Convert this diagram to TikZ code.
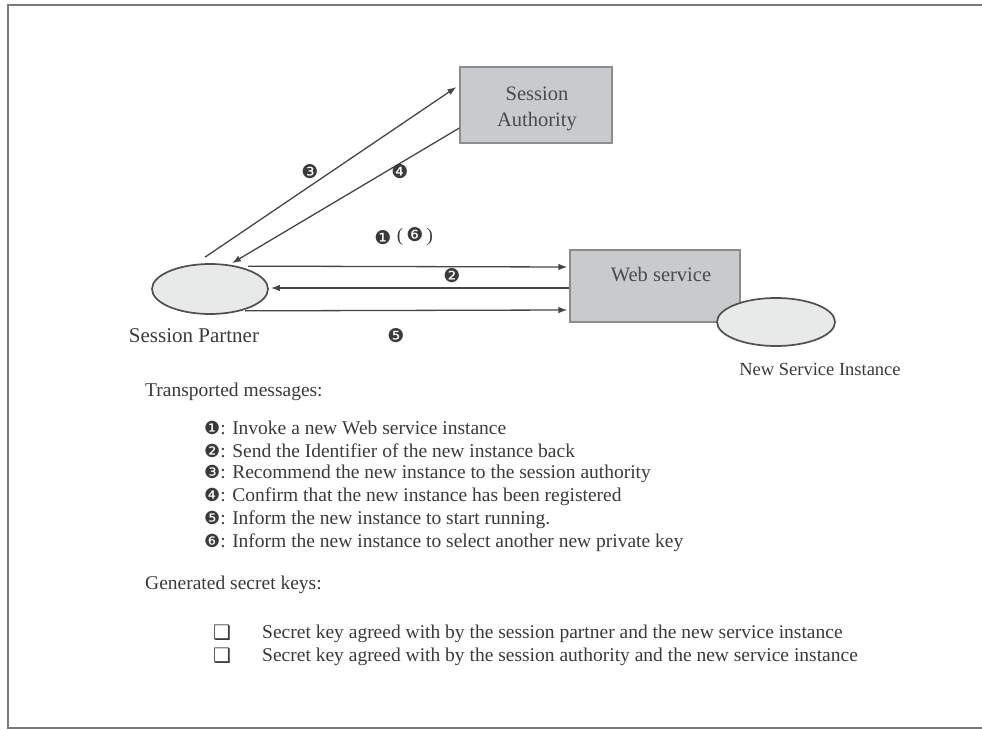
\documentclass[tikz,border=0pt]{standalone}
\usepackage{fontspec}
\setmainfont{Liberation Serif}
\newfontfamily\dv{DejaVu Sans}
\usetikzlibrary{arrows.meta,calc,shapes.geometric}
\definecolor{txt}{HTML}{3A3A3A}
\definecolor{boxtxt}{HTML}{4A4A4A}
\definecolor{boxfill}{HTML}{C8CACB}
\definecolor{boxline}{HTML}{8A8C8E}
\definecolor{ellfill}{HTML}{E8EAEA}
\definecolor{ellline}{HTML}{505050}
\definecolor{arrcol}{HTML}{454545}
\definecolor{framecol}{HTML}{7A7A7A}
\newcommand{\cnum}[1]{{\dv\fontsize{18}{18}\selectfont #1}}
\tikzset{
  box/.style={draw=boxline, fill=boxfill, line width=1.2pt, inner sep=0pt},
  boxtext/.style={text=boxtxt, inner sep=0pt, align=center, font=\fontsize{20.5}{26}\selectfont},
  ell/.style={ellipse, draw=ellline, fill=ellfill, line width=1.7pt, inner sep=0pt},
  arr/.style={draw=arrcol, line width=1.3pt, -{Latex[length=9pt,width=6.5pt]}},
  lbl/.style={text=txt, inner sep=0pt, font=\fontsize{21}{24}\selectfont},
  num/.style={text=txt, inner sep=0pt, font=\dv\fontsize{19}{20}\selectfont},
  item/.style={text=txt, inner sep=0pt, anchor=west, font=\fontsize{19.5}{23}\selectfont},
}
\begin{document}
\begin{tikzpicture}[x=1pt,y=-1pt]
\useasboundingbox (0,0) rectangle (982,730);
% frame
\draw[framecol, line width=2pt] (990,5) -- (8,5) -- (8,728) -- (990,728);

% nodes
\node[box, minimum width=152pt, minimum height=76pt] (sa) at (536,105) {};
\node[boxtext] (sat) at (537,109) {Session\\Authority};
\node[box, minimum width=170pt, minimum height=72pt] (ws) at (655,286) {};
\node[boxtext] (wst) at (661,275) {Web service};
\node[ell, minimum width=116pt, minimum height=50pt] (sp) at (210,289) {};
\node[ell, minimum width=118pt, minimum height=48pt] (nsi) at (776,322) {};
\node[lbl] (spl) at (194,336) {Session Partner};
\node[lbl, font=\fontsize{18.5}{22}\selectfont] (nsil) at (820,369) {New Service Instance};

% arrows
\draw[arr] ([shift={(-5,-6)}]sp.north) -- ([shift={(-3,-18)}]sa.west);
\draw[arr] ([shift={(0,23)}]sa.west) -- ([shift={(22,0)}]sp.north);
\draw[arr] ([shift={(38,3)}]sp.north) -- ([shift={(-2,-19)}]ws.west);
\draw[arr] ([shift={(0,2)}]ws.west) -- ([shift={(2,-1)}]sp.east);
\draw[arr] ([shift={(35,-4)}]sp.south) -- ([shift={(-2,24)}]ws.west);

% message numbers
\node[num] (n3) at (310,172) {❸};
\node[num] (n4) at (400,172) {❹};
\node[num] (n1) at (383,238) {❶};
\node[lbl, font=\fontsize{19}{20}\selectfont] (n6) at (415,237) {(\,{\dv\fontsize{19}{20}\selectfont ❻}\,)};
\node[num] (n2) at (452,276) {❷};
\node[num] (n5) at (396,336) {❺};

% legend
\node[item] (t1) at (145,392) {Transported messages:};
\node[item] (m1) at (204,428) {\cnum{❶}: Invoke a new Web service instance};
\node[item] (m2) at (204,451) {\cnum{❷}: Send the Identifier of the new instance back};
\node[item] (m3) at (204,474) {\cnum{❸}: Recommend the new instance to the session authority};
\node[item] (m4) at (204,497) {\cnum{❹}: Confirm that the new instance has been registered};
\node[item] (m5) at (204,520) {\cnum{❺}: Inform the new instance to start running.};
\node[item] (m6) at (204,543) {\cnum{❻}: Inform the new instance to select another new private key};
\node[item] (t2) at (145,585) {Generated secret keys:};
\node[item, font=\dv\fontsize{20}{22}\selectfont] (c1) at (213,633) {❑};
\node[item, font=\dv\fontsize{20}{22}\selectfont] (c2) at (213,656) {❑};
\node[item] (k1) at (262,634) {Secret key agreed with by the session partner and the new service instance};
\node[item] (k2) at (262,657) {Secret key agreed with by the session authority and the new service instance};
\end{tikzpicture}
\end{document}
